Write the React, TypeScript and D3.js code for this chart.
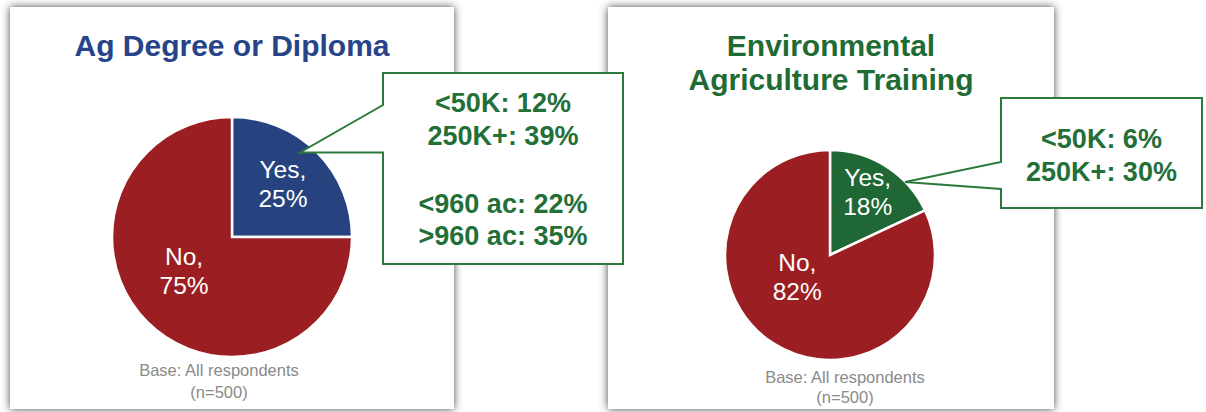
import React from "react";
import * as d3 from "d3";

// ---- data ----
const categories = ["Yes", "No"];
const agDegreeValues = [25, 75];
const envTrainingValues = [18, 82];
const agDegreeTitle = ["Ag Degree or Diploma"];
const envTrainingTitle = ["Environmental", "Agriculture Training"];
const agDegreeCallout = ["<50K: 12%", "250K+: 39%", "", "<960 ac: 22%", ">960 ac: 35%"];
const envTrainingCallout = ["<50K: 6%", "250K+: 30%"];
const baseNote = ["Base: All respondents", "(n=500)"];

// ---- styles / layout ----
const RED = "#9b1e23";
const BLUE = "#264380";
const GREEN_SLICE = "#1f6735";
const TITLE_BLUE = "#264487";
const TITLE_GREEN = "#1f6b35";
const CALLOUT_TEXT = "#236f38";
const CALLOUT_BORDER = "#2b7a3c";
const NOTE_GRAY = "#8a8a8a";
const FONT = "'Liberation Sans', Arial, sans-serif";

type PanelCfg = {
  box: [number, number, number, number];
  cx: number;
  cy: number;
  r: number;
  values: number[];
  yesColor: string;
  title: string[];
  titleColor: string;
  titleX: number;
  titleBaselines: number[];
  labelNudge: [number, number][];
  noteX: number;
  noteBaselines: number[];
  callout: string[];
  calloutBox: [number, number, number, number];
  pointer: [number, number][]; // lower attach, tip, upper attach
  calloutBaselines: number[];
};

const panels: PanelCfg[] = [
  {
    box: [10, 7, 444, 402],
    cx: 232,
    cy: 237,
    r: 120,
    values: agDegreeValues,
    yesColor: BLUE,
    title: agDegreeTitle,
    titleColor: TITLE_BLUE,
    titleX: 232,
    titleBaselines: [56],
    labelNudge: [[0, -2], [3, -17]],
    noteX: 219,
    noteBaselines: [376, 398],
    callout: agDegreeCallout,
    calloutBox: [383, 73, 240, 191],
    pointer: [[383, 152.5], [300, 152.5], [383, 105]],
    calloutBaselines: [112, 145, 179, 213, 245],
  },
  {
    box: [608, 7, 446, 402],
    cx: 830,
    cy: 255,
    r: 105,
    values: envTrainingValues,
    yesColor: GREEN_SLICE,
    title: envTrainingTitle,
    titleColor: TITLE_GREEN,
    titleX: 831,
    titleBaselines: [56, 90],
    labelNudge: [[4, -10], [1, -31]],
    noteX: 845,
    noteBaselines: [383, 403],
    callout: envTrainingCallout,
    calloutBox: [1001, 98, 201, 110],
    pointer: [[1001, 189], [905, 182], [1001, 162]],
    calloutBaselines: [148, 181],
  },
];

function Panel({ p }: { p: PanelCfg }) {
  const pie = d3
    .pie<number>()
    .sort(null)
    .value((d) => d)
    .startAngle(0)
    .endAngle(2 * Math.PI);
  const arcs = pie(p.values);
  const arc = d3.arc<d3.PieArcDatum<number>>().innerRadius(0).outerRadius(p.r);
  const labelArc = d3
    .arc<d3.PieArcDatum<number>>()
    .innerRadius(p.r * 0.6)
    .outerRadius(p.r * 0.6);
  const colors = [p.yesColor, RED];
  return (
    <g>
      <rect
        x={p.box[0]}
        y={p.box[1]}
        width={p.box[2]}
        height={p.box[3]}
        fill="#ffffff"
        filter="url(#panelShadow)"
      />
      {p.title.map((t, i) => (
        <text
          key={"t" + i}
          x={p.titleX}
          y={p.titleBaselines[i]}
          textAnchor="middle"
          fontFamily={FONT}
          fontWeight="bold"
          fontSize={30}
          fill={p.titleColor}
        >
          {t}
        </text>
      ))}
      <g transform={`translate(${p.cx},${p.cy})`}>
        {arcs.map((a, i) => (
          <path
            key={"s" + i}
            d={arc(a) || ""}
            fill={colors[i]}
            stroke="#ffffff"
            strokeWidth={2.5}
            strokeLinejoin="miter"
          />
        ))}
        {arcs.map((a, i) => {
          const [lx, ly] = labelArc.centroid(a);
          const x = lx + p.labelNudge[i][0];
          const y = ly + p.labelNudge[i][1];
          return (
            <text
              key={"l" + i}
              textAnchor="middle"
              fontFamily={FONT}
              fontSize={24.5}
              fill="#ffffff"
            >
              <tspan x={x} y={y - 6}>
                {categories[i]},
              </tspan>
              <tspan x={x} y={y + 23}>
                {a.data}%
              </tspan>
            </text>
          );
        })}
      </g>
      {baseNote.map((t, i) => (
        <text
          key={"n" + i}
          x={p.noteX}
          y={p.noteBaselines[i]}
          textAnchor="middle"
          fontFamily={FONT}
          fontSize={16.5}
          fill={NOTE_GRAY}
        >
          {t}
        </text>
      ))}
    </g>
  );
}

function Callout({ p }: { p: PanelCfg }) {
  const [bx, by, bw, bh] = p.calloutBox;
  const d =
    `M${bx},${by} L${bx + bw},${by} L${bx + bw},${by + bh} L${bx},${by + bh} ` +
    `L${p.pointer[0][0]},${p.pointer[0][1]} L${p.pointer[1][0]},${p.pointer[1][1]} ` +
    `L${p.pointer[2][0]},${p.pointer[2][1]} Z`;
  return (
    <g>
      <path d={d} fill="#ffffff" stroke={CALLOUT_BORDER} strokeWidth={2} />
      {p.callout.map((t, i) =>
        t ? (
          <text
            key={"c" + i}
            x={bx + bw / 2}
            y={p.calloutBaselines[i]}
            textAnchor="middle"
            fontFamily={FONT}
            fontWeight="bold"
            fontSize={27}
            fill={CALLOUT_TEXT}
          >
            {t}
          </text>
        ) : null
      )}
    </g>
  );
}

export default function App() {
  return (
    <svg
      width={1206}
      height={412}
      style={{ position: "absolute", left: 0, top: 0, background: "#ffffff" }}
    >
      <defs>
        <filter id="panelShadow" x="-10%" y="-10%" width="120%" height="120%">
          <feDropShadow dx="0" dy="0" stdDeviation="4" floodColor="#444444" floodOpacity="1" />
        </filter>
      </defs>
      <rect x={0} y={0} width={1206} height={412} fill="#ffffff" />
      {panels.map((p, i) => (
        <Panel key={i} p={p} />
      ))}
      {panels.map((p, i) => (
        <Callout key={"c" + i} p={p} />
      ))}
    </svg>
  );
}
